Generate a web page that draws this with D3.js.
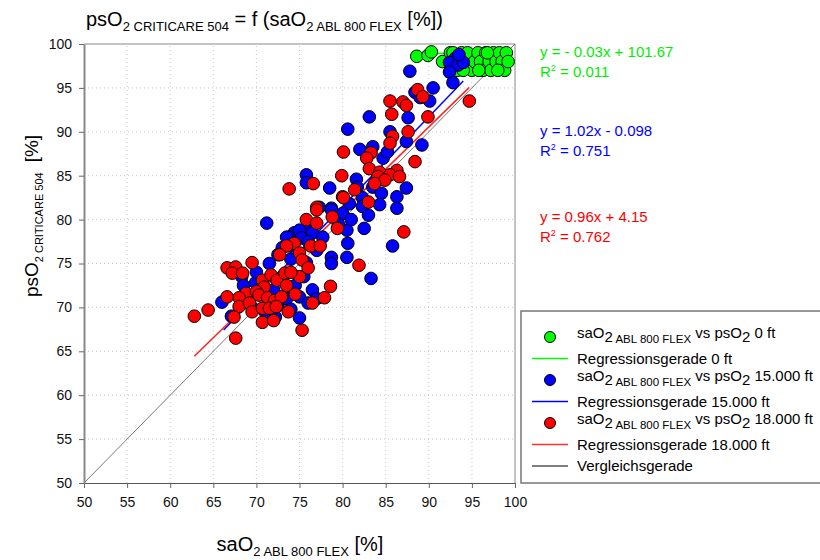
<!DOCTYPE html>
<html>
<head>
<meta charset="utf-8">
<script src="https://cdn.jsdelivr.net/npm/d3@7"></script>
<style>
  body { margin: 0; background: #fff; }
  text { font-family: "Liberation Sans", Arial, sans-serif; }
</style>
</head>
<body>
<script>
// data: [saO2, psO2]
var green0ft = [
  [88.6,98.6],[89.9,98.7],[90.3,99.1],[91.6,98],[92.5,99],[93,98],[93.3,97],[93.8,99],
  [94.2,98],[94.5,99],[95,97],[95.3,98],[95.7,99],[96,98],[96.3,97],[96.6,99],
  [97,98],[97.2,97],[97.5,99],[97.8,98],[98.2,99],[98.5,98],[98.8,97],[99,99],
  [99.2,98],[92.8,99],[94,97],[95.8,97],[93.5,98],[96.8,99],[98,97]
];
var blue15000 = [
  [93.1,98.4],[92.4,97.9],[93.4,97.6],[94,97.9],[92.4,96.8],[87.8,96.9],[92.8,95.6],[90.5,95],
  [88.4,94.5],[89,93.9],[90.1,93.5],[93.5,98.8],
  [83.1,91.7],[87.6,91.6],[80.6,90.3],[85.5,90],[87.4,88.9],[89.2,88.5],[82,88],[83.5,88.3],
  [84.7,87],[85.2,87.7],[75.8,85.1],[75.8,84.2],[78.5,83.6],[81.6,84.6],[81.7,83.7],[83.5,83.7],
  [87.4,83.6],[84.5,83],[86.3,82.6],[82.3,82.5],[80.8,81.8],[78.7,81.3],[84.3,81.7],[86.3,81.3],
  [77.3,81.4],[80,80.7],[80.5,78.8],[76.2,79],[71.2,79.6],[74.4,78.5],[75,78.8],[73.8,78],
  [73,76.8],[75.2,77.9],[76.5,78.5],[77.7,78],[75.8,75.1],[78.7,75.7],[78.7,75],[80.5,75.7],
  [78.7,81.1],[80.6,77.3],[85.8,77],[82.3,81.5],[83.3,73.3],[73.5,78],[74,77],[76,77.5],
  [77,76.5],[79.5,79.5],[81,80],[82.5,79],[83,80.5],
  [68.3,73.5],[69.9,72.8],[66,70.6],[72.2,68.9],[67.1,69],[68.5,72.5],[69.5,70],[70.5,71.5],
  [71,69.5],[72,72],[72.5,70.2],[73,73.5],[73.5,71],[74,69.8],[74.5,72.5],[75,71.2],
  [75.5,73.5],[76,70.5],[76.5,72],[77,71],[75,68.8],[70,74],[71.5,75],[72.5,76],[74,75.5]
];
var red18000 = [
  [87,93.4],[87.4,93],[88.7,94.8],[89.3,94],[94.7,93.5],[89.9,91.7],[85.5,93.5],[85.7,92],
  [87.6,90],[85.8,89.5],[85.5,88.7],[80.1,87.7],[83.3,87.6],[82.8,87],[88.4,86.6],[83.1,85.8],
  [84.3,85.4],[86.3,85.6],[85.5,85.1],[84.1,84.9],[84.9,84.5],[86.6,84.9],[76.6,84.1],[79.9,85],
  [83.7,84.1],[80,82.6],[83,82],[77,81.4],[81.4,83.4],[73.8,83.5],[77,81.1],[80.1,82.5],
  [78.8,80.3],[79.4,79],[75.8,80],[77,79.6],[87.1,78.6],[74.4,77.3],[73.5,77],[76.3,77],
  [77.4,77],[75,76.2],[75.3,75.4],[72.7,76],[69.5,75.1],[66.6,74.5],[67.6,74.6],[67.2,73.9],
  [68.4,73.9],[81.9,74.8],
  [70.7,73.1],[71.7,73.7],[70.9,72.3],[72.4,73.1],[73.3,73.9],[68.8,71.6],[68,71.1],[70,71.8],
  [70.3,71.4],[71.3,71.1],[72.1,70.8],[72.9,71.2],[66.6,71.2],[68,70.1],[69.2,70.5],[69.5,69.5],
  [70.7,69.9],[71.5,69.9],[72.3,70.1],[70.7,68.3],[67.4,68.9],[64.4,69.7],[62.8,69],[67.6,66.5],
  [75.3,67.4],[78.6,72.4],[77.9,71.1],[76.5,70.5],[74.5,71.5],[73.5,72.5],[75,73.5],[74,74],
  [76,74.5],[72,68.5],[73.7,69.5]
];

// regression lines [slope, intercept, xFrom, xTo]
var regGreen = [-0.03, 101.67, 88.6, 99.2];
var regBlue = [1.02, -0.098, 66.2, 94];
var regRed = [0.96, 4.15, 62.8, 94.7];

var ticks = [50, 55, 60, 65, 70, 75, 80, 85, 90, 95, 100];

var W = 820, H = 560;
var svg = d3.select("body").append("svg").attr("width", W).attr("height", H);

var x = d3.scaleLinear().domain([50, 100]).range([84, 515]);
var y = d3.scaleLinear().domain([50, 100]).range([483, 44]);

// grid
var grid = svg.append("g");
grid.selectAll(".gx").data(ticks.slice(1, -1)).enter().append("line")
  .attr("x1", function (d) { return x(d); }).attr("x2", function (d) { return x(d); })
  .attr("y1", y(50)).attr("y2", y(100))
  .attr("stroke", "#c8c8c8").attr("stroke-dasharray", "1,3");
grid.selectAll(".gy").data(ticks.slice(1, -1)).enter().append("line")
  .attr("y1", function (d) { return y(d); }).attr("y2", function (d) { return y(d); })
  .attr("x1", x(50)).attr("x2", x(100))
  .attr("stroke", "#c8c8c8").attr("stroke-dasharray", "1,3");

// frame top / right
svg.append("path")
  .attr("d", "M" + x(50) + "," + y(100) + "H" + x(100) + "V" + y(50))
  .attr("fill", "none").attr("stroke", "#888").attr("stroke-width", 1);

// lines
function regLine(r, col) {
  svg.append("line")
    .attr("x1", x(r[2])).attr("y1", y(r[0] * r[2] + r[1]))
    .attr("x2", x(r[3])).attr("y2", y(r[0] * r[3] + r[1]))
    .attr("stroke", col).attr("stroke-width", 1.5);
}
svg.append("line")
  .attr("x1", x(50)).attr("y1", y(50)).attr("x2", x(100)).attr("y2", y(100))
  .attr("stroke", "#555").attr("stroke-width", 0.8);
regLine(regGreen, "#00ff00");
regLine(regBlue, "#0000ff");
regLine(regRed, "#ff2020");

// points
function dots(data, col) {
  svg.append("g").selectAll("circle").data(data).enter().append("circle")
    .attr("cx", function (d) { return x(d[0]); })
    .attr("cy", function (d) { return y(d[1]); })
    .attr("r", 6.3)
    .attr("fill", col).attr("stroke", "#000").attr("stroke-width", 1);
}
dots(green0ft, "#00ff00");
dots(blue15000, "#0000ff");
dots(red18000, "#ff0000");

// axes
var xAxis = svg.append("g").attr("transform", "translate(0," + y(50) + ")")
  .call(d3.axisBottom(x).tickValues(ticks).tickSize(5).tickPadding(9).tickSizeOuter(0));
var yAxis = svg.append("g").attr("transform", "translate(" + x(50) + ",0)")
  .call(d3.axisLeft(y).tickValues(ticks).tickSize(5).tickPadding(7).tickSizeOuter(0));
xAxis.select(".domain").attr("stroke", "#555");
yAxis.select(".domain").attr("stroke", "#888").attr("stroke-width", 2);
svg.selectAll(".tick line").attr("stroke", "#666");
svg.selectAll(".tick text").attr("font-size", 14).attr("fill", "#111")
  .attr("font-family", "Liberation Sans, Arial, sans-serif");

// text with subscripts: [text, size, dy, dx]
function richText(g, parts) {
  var t = g.append("text");
  parts.forEach(function (p) {
    t.append("tspan").attr("font-size", p[1]).attr("dy", p[2] || 0)
      .attr("dx", p[3] || 0).text(p[0]);
  });
  return t;
}

richText(svg.append("g").attr("transform", "translate(86,26)"), [
  ["psO", 20], ["2 CRITICARE 504", 13, 5], [" = f (saO", 20, -5],
  ["2 ABL 800 FLEX", 13, 5], [" [%])", 20, -5]
]);

richText(svg.append("g").attr("transform", "translate(300,551)"), [
  ["saO", 20], ["2 ABL 800 FLEX", 13, 5], [" [%]", 20, -5]
]).attr("text-anchor", "middle");

richText(svg.append("g").attr("transform", "translate(38,216) rotate(-90)"), [
  ["psO", 19], ["2 CRITICARE 504", 11, 5], ["[%]", 19, -5, 10]
]).attr("text-anchor", "middle");

// equations
var eqs = [
  ["y = - 0.03x + 101.67", "0.011", "#00ee00", 57],
  ["y = 1.02x - 0.098", "0.751", "#0000ff", 136],
  ["y = 0.96x + 4.15", "0.762", "#ff0000", 222]
];
eqs.forEach(function (e) {
  svg.append("text").attr("x", 540).attr("y", e[3]).attr("font-size", 15)
    .attr("fill", e[2]).text(e[0]);
  richText(svg.append("g").attr("transform", "translate(540," + (e[3] + 20) + ")"), [
    ["R", 15], ["2", 9, -6], [" = " + e[1], 15, 6]
  ]).attr("fill", e[2]);
});

// legend
var leg = svg.append("g");
leg.append("rect").attr("x", 521).attr("y", 311).attr("width", 320).attr("height", 172)
  .attr("fill", "#fff").attr("stroke", "#777").attr("stroke-width", 1.5);
var legRows = [
  ["dot", "#00ff00", "0 ft"], ["line", "#00ff00", "Regressionsgerade 0 ft"],
  ["dot", "#0000ff", "15.000 ft"], ["line", "#0000ff", "Regressionsgerade 15.000 ft"],
  ["dot", "#ff0000", "18.000 ft"], ["line", "#ff3030", "Regressionsgerade 18.000 ft"],
  ["line", "#555", "Vergleichsgerade"]
];
legRows.forEach(function (r, i) {
  var cy = 337 + i * 21.5;
  if (r[0] === "dot") {
    leg.append("circle").attr("cx", 550).attr("cy", cy).attr("r", 5.5)
      .attr("fill", r[1]).attr("stroke", "#000");
    richText(leg.append("g").attr("transform", "translate(577," + (cy + 1) + ")"), [
      ["saO", 15], ["2", 15, 4], [" ABL 800 FLEX", 11.5, 1], [" vs psO", 15, -5],
      ["2", 15, 4], [" " + r[2], 15, -4]
    ]);
  } else {
    leg.append("line").attr("x1", 532).attr("x2", 568).attr("y1", cy).attr("y2", cy)
      .attr("stroke", r[1]).attr("stroke-width", 1.5);
    leg.append("text").attr("x", 577).attr("y", cy + 5).attr("font-size", 15).text(r[2]);
  }
});
</script>
</body>
</html>
